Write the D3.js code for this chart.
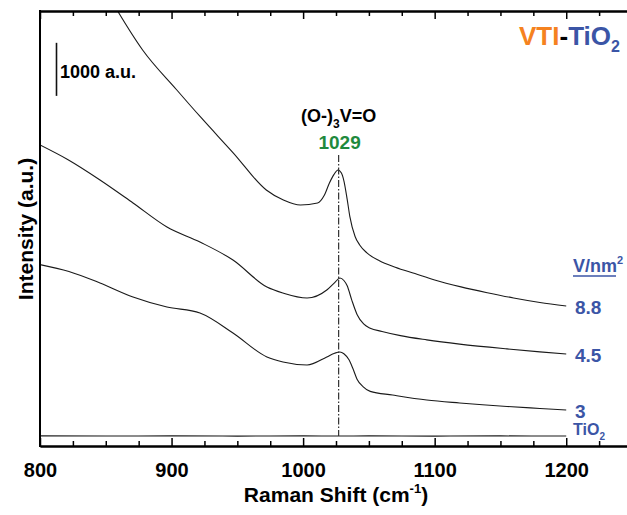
<!DOCTYPE html>
<html><head><meta charset="utf-8">
<script src="https://cdn.jsdelivr.net/npm/d3@7"></script>
<style>body{margin:0;background:#fff;overflow:hidden} text{font-family:"Liberation Sans",Arial,sans-serif}</style>
</head><body><svg id="c" width="627" height="515"></svg>
<script>
// ---- data (Raman shift cm-1, intensity a.u.) ----
const series88 = [[850,8580],[859,8200],[878,7465],[904,6711],[922,6202],[947,5523],[972,4826],[985,4637],[998,4543],[1011,4581],[1016,4720],[1020,4958],[1023.5,5120],[1026.5,5203],[1029,5150],[1031,5000],[1033.5,4650],[1035.5,4330],[1039.5,3950],[1043,3790],[1048.5,3640],[1058,3490],[1070,3370],[1085,3250],[1100,3130],[1120,3000],[1140,2890],[1160,2790],[1180,2705],[1200,2639]];
const series45 = [[800,5674],[821,5400],[845.6,5014],[870.7,4581],[896.5,4128],[921.6,3845],[946.7,3506],[972.5,2997],[984.7,2884],[1003,2790],[1018,2941],[1024,3080],[1028,3167],[1031,3120],[1033.5,3020],[1037,2750],[1041,2480],[1046,2300],[1051,2220],[1060,2160],[1074,2080],[1094,2000],[1119,1920],[1155,1830],[1180,1775],[1200,1734]];
const series3 = [[800,3420],[822,3290],[845.6,3073],[870.7,2809],[896.5,2620],[921.6,2507],[946.7,2130],[972.5,1678],[984.7,1583],[1003,1527],[1018,1678],[1024,1750],[1028,1772],[1031,1740],[1035,1620],[1038,1450],[1041,1260],[1045.5,1120],[1051,1030],[1068,961],[1094,867],[1119,811],[1155,745],[1180,708],[1200,679]];
const seriesTiO2 = [[800,190],[850,188],[900,190],[950,187],[1000,190],[1027,188],[1050,190],[1100,187],[1150,190],[1200,189]];
const seriesLabels = ["8.8","4.5","3","TiO"];
const labelValues = [2639,1734,679,189];
const xTickValues = [800,900,1000,1100,1200];
const peakPosition = 1027;
const peakLabel = "1029";
const scaleBarValue = 1000;
const scaleBarTop = 7600;

const svg = d3.select("#c");
const x = d3.scaleLinear().domain([800,1250]).range([40,632]);
const y = d3.scaleLinear().domain([0,8200]).range([446,11]);

svg.append("defs").append("clipPath").attr("id","clip")
  .append("rect").attr("x",40).attr("y",11).attr("width",592).attr("height",435);

// curves
const line = d3.line().x(d=>x(d[0])).y(d=>y(d[1])).curve(d3.curveMonotoneX);
const g = svg.append("g").attr("clip-path","url(#clip)");
[series88,series45,series3,seriesTiO2].forEach(s=>{
  g.append("path").datum(s).attr("d",line).attr("fill","none")
   .attr("stroke","#1a1a1a").attr("stroke-width",1.1);
});

// peak dash-dot line
svg.append("line").attr("x1",x(peakPosition)).attr("x2",x(peakPosition))
  .attr("y1",155).attr("y2",y(189)).attr("stroke","#333").attr("stroke-width",1.2)
  .attr("stroke-dasharray","7,2,1.5,2");

// axes
const minor = d3.range(825,1250,25).filter(v=>v%100!==0);
const bot = svg.append("g").attr("transform","translate(0,446)");
bot.call(d3.axisBottom(x).tickValues(xTickValues).tickSizeInner(-8).tickSizeOuter(0).tickPadding(17).tickFormat(d3.format("d")));
bot.append("g").call(d3.axisBottom(x).tickValues(minor).tickSizeInner(-5).tickSizeOuter(0).tickFormat(""));
bot.selectAll("path.domain").attr("stroke","#000").attr("stroke-width",2);
bot.selectAll(".tick line").attr("stroke","#000").attr("stroke-width",1.5);
bot.selectAll(".tick text").attr("font-size",20).attr("font-weight","bold").attr("fill","#000")
   .attr("font-family","'Liberation Sans',Arial,sans-serif");

const topAx = svg.append("g").attr("transform","translate(0,11)");
topAx.call(d3.axisTop(x).tickValues(xTickValues).tickSizeInner(-8).tickSizeOuter(0).tickFormat(""));
topAx.append("g").call(d3.axisTop(x).tickValues(minor).tickSizeInner(-5).tickSizeOuter(0).tickFormat(""));
topAx.selectAll("path.domain").attr("stroke","#000").attr("stroke-width",2);
topAx.selectAll(".tick line").attr("stroke","#000").attr("stroke-width",1.5);

svg.append("line").attr("x1",40).attr("x2",40).attr("y1",10).attr("y2",447).attr("stroke","#000").attr("stroke-width",2);

// axis titles
const xt = svg.append("text").attr("x",336).attr("y",502).attr("text-anchor","middle")
  .attr("font-size",21).attr("font-weight","bold");
xt.append("tspan").text("Raman Shift (cm");
xt.append("tspan").attr("font-size",13).attr("dy",-9).text("-1");
xt.append("tspan").attr("dy",9).text(")");

svg.append("text").attr("transform","translate(33,229) rotate(-90)").attr("text-anchor","middle")
  .attr("font-size",21).attr("font-weight","bold").text("Intensity (a.u.)");

// scale bar
svg.append("line").attr("x1",56.5).attr("x2",56.5).attr("y1",y(scaleBarTop)).attr("y2",y(scaleBarTop-scaleBarValue))
  .attr("stroke","#111").attr("stroke-width",1.6);
svg.append("text").attr("x",60).attr("y",78).attr("font-size",18).attr("font-weight","bold").text(scaleBarValue+" a.u.");

// peak labels
const pt = svg.append("text").attr("x",x(peakPosition)).attr("y",122).attr("text-anchor","middle").attr("font-size",18).attr("font-weight","bold");
pt.append("tspan").text("(O-)");
pt.append("tspan").attr("font-size",12).attr("dy",6).text("3");
pt.append("tspan").attr("dy",-6).text("V=O");
svg.append("text").attr("x",x(peakPosition)+1).attr("y",149).attr("text-anchor","middle")
  .attr("font-size",19).attr("font-weight","bold").attr("fill","#1f8a3e").text(peakLabel);

// title
const tt = svg.append("text").attr("x",519).attr("y",45).attr("font-size",26).attr("font-weight","bold");
tt.append("tspan").attr("fill","#f5821f").text("VTI");
tt.append("tspan").attr("fill","#000").text("-");
tt.append("tspan").attr("fill","#3b55a6").text("TiO");
tt.append("tspan").attr("fill","#3b55a6").attr("font-size",16).attr("dy",7).text("2");

// legend-like labels
const blue = "#3b55a6";
const vt = svg.append("text").attr("x",573).attr("y",272).attr("font-size",18).attr("font-weight","bold").attr("fill",blue);
vt.append("tspan").text("V/nm");
vt.append("tspan").attr("font-size",11).attr("dy",-8).text("2");
svg.append("line").attr("x1",573).attr("x2",616).attr("y1",276).attr("y2",276).attr("stroke",blue).attr("stroke-width",1.6);

seriesLabels.forEach((t,i)=>{
  if(i<3){
    svg.append("text").attr("x",575).attr("y",y(labelValues[i])+8).attr("font-size",19).attr("font-weight","bold").attr("fill",blue).text(t);
  } else {
    const tx = svg.append("text").attr("x",573).attr("y",435).attr("font-size",16).attr("font-weight","bold").attr("fill",blue);
    tx.append("tspan").text(t);
    tx.append("tspan").attr("font-size",10).attr("dy",5).text("2");
  }
});
</script></body></html>
